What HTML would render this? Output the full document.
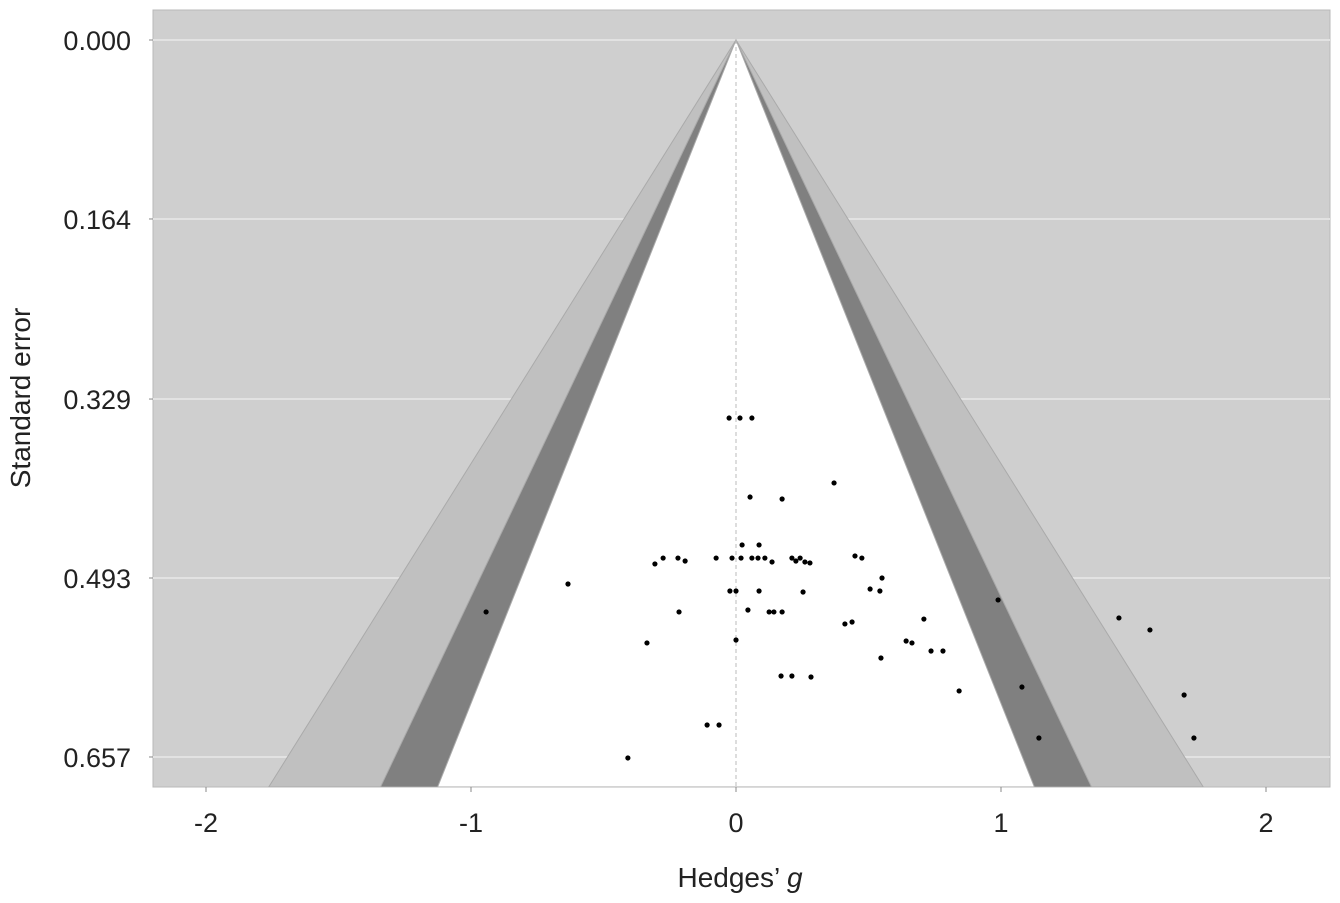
<!DOCTYPE html>
<html><head><meta charset="utf-8"><style>
body{margin:0;background:#fff}
svg text{font-family:"Liberation Sans",sans-serif;fill:#222}
</style></head><body>
<svg id="c" width="1340" height="898"></svg>
<script>
const xTicks=[-2,-1,0,1,2];
const yTicks=[0,0.164,0.329,0.493,0.657];
const yTickLabels=["0.000","0.164","0.329","0.493","0.657"];
const gVals=[-0.026,0.015,0.060,0.370,0.053,0.174,0.023,0.087,-0.275,-0.219,-0.192,-0.075,-0.015,0.019,0.060,0.083,0.109,0.136,0.211,0.226,0.242,0.260,0.279,0.449,0.475,-0.306,0.551,-0.023,0,0.087,0.253,0.506,0.543,0.045,0.125,0.143,0.174,-0.215,0.411,0.438,-0.336,0,0.642,0.664,0.547,0.170,0.211,0.283,-0.634,-0.943,-0.109,-0.064,-0.408,0.736,0.781,0.709,0.842,0.989,1.079,1.143,1.445,1.562,1.691,1.728];
const seVals=[0.3464,0.3464,0.3464,0.4059,0.4188,0.4206,0.4627,0.4627,0.4747,0.4747,0.4774,0.4747,0.4747,0.4747,0.4747,0.4747,0.4747,0.4783,0.4747,0.4774,0.4747,0.4783,0.4792,0.4728,0.4747,0.4801,0.4930,0.5049,0.5049,0.5049,0.5058,0.5031,0.5049,0.5223,0.5241,0.5241,0.5241,0.5241,0.5351,0.5333,0.5525,0.5498,0.5507,0.5525,0.5663,0.5828,0.5828,0.5837,0.4985,0.5241,0.6277,0.6277,0.6579,0.5599,0.5599,0.5306,0.5965,0.5131,0.5929,0.6396,0.5296,0.5406,0.6002,0.6396];
const NS="http://www.w3.org/2000/svg",svg=document.getElementById('c');
const L=153,R=1330,T=10,B=787;
const X=g=>736+g*265, Y=s=>40+s*1091.3;
function el(t,a,p){const e=document.createElementNS(NS,t);for(const k in a)e.setAttribute(k,a[k]);(p||svg).appendChild(e);return e;}
const bg=el('rect',{x:L,y:T,width:R-L,height:B-T,fill:'#cfcfcf',stroke:'#b8b8b8'});


yTicks.forEach((t,i)=>{
 const g=el('line',{x1:L,x2:R,y1:Y(t),y2:Y(t),stroke:'#e2e2e2','stroke-width':2});
 
 
});
const sB=(B-40)/1091.3;
const clip=el('clipPath',{id:'cp'});el('rect',{x:L,y:T,width:R-L,height:B-T},clip);
function funnel(z,fill,name){
 const p=el('polygon',{points:`${X(0)},${Y(0)} ${X(z*sB)},${Y(sB)} ${X(-z*sB)},${Y(sB)}`,fill:fill,stroke:'#aaa','stroke-width':1,'clip-path':'url(#cp)'});
 
 
}
funnel(2.576,'#c0c0c0','funnel-99');
funnel(1.96,'#808080','funnel-95');
funnel(1.645,'#ffffff','funnel-90');
const cl=el('line',{x1:X(0),x2:X(0),y1:Y(0),y2:B,stroke:'#bbb','stroke-dasharray':'4,3'});


gVals.forEach((g,i)=>{
 const c=el('circle',{cx:X(g),cy:Y(seVals[i]),r:2.6,fill:'#000'});
 
 
});
yTicks.forEach((t,i)=>{
 el('line',{x1:L-4,x2:L,y1:Y(t),y2:Y(t),stroke:'#888'});
 const tx=el('text',{x:131,y:Y(t)+10,'text-anchor':'end','font-size':27});
 tx.textContent=yTickLabels[i];
 
 
});
xTicks.forEach(t=>{
 el('line',{x1:X(t),x2:X(t),y1:B,y2:B+5,stroke:'#888'});
 const tx=el('text',{x:X(t),y:B+45,'text-anchor':'middle','font-size':27});
 tx.textContent=String(t);
 
 
});
const xt=el('text',{x:740,y:887,'text-anchor':'middle','font-size':28});
xt.innerHTML='Hedges’ <tspan font-style="italic">g</tspan>';


const yt=el('text',{x:0,y:0,'text-anchor':'middle','font-size':28,transform:'translate(30,398) rotate(-90)'});
yt.textContent='Standard error';


</script>
</body></html>
